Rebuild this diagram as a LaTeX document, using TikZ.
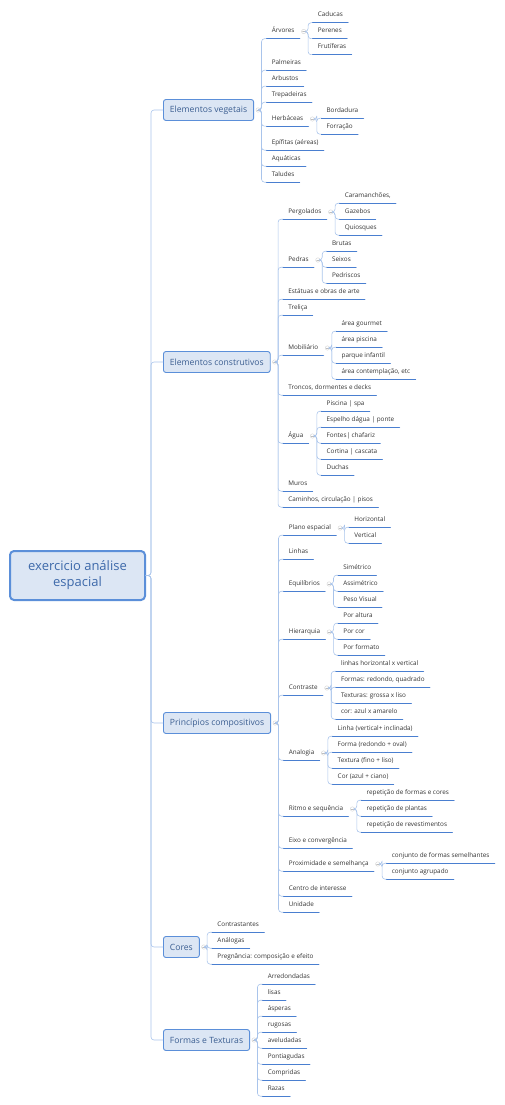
\documentclass[tikz,border=0pt]{standalone}
\usepackage{fontspec}
\setmainfont{Open Sans}
\usetikzlibrary{calc,positioning}
\definecolor{mapline}{HTML}{A9C4EB}
\definecolor{mapul}{HTML}{4A7FD0}
\definecolor{mapfill}{HTML}{DCE6F4}
\definecolor{mapedge}{HTML}{5B8FD9}
\definecolor{maptext}{HTML}{3B5E91}
\definecolor{roottext}{HTML}{3D69AA}
\definecolor{leaftext}{HTML}{333333}

\begin{document}
\begin{tikzpicture}[x=1pt,y=-1pt,line cap=round,line join=round,
  root/.style={draw=mapedge,line width=2pt,fill=mapfill,rounded corners=4pt,text=roottext,
    font=\fontsize{13}{16}\selectfont,align=center,minimum width=135pt,minimum height=49pt},
  topic/.style={draw=mapedge,line width=0.9pt,fill=mapfill,rounded corners=2.5pt,text=maptext,
    font=\fontsize{8.6}{10.3}\selectfont,minimum height=21pt,inner xsep=6.5pt,anchor=west},
  leaf/.style={font=\fontsize{6.35}{7.5}\selectfont,text=leaftext,inner xsep=5pt,inner ysep=4pt,
    text height=4.5pt,text depth=1.5pt,anchor=west},
  branch/.style={draw=mapline,line width=0.6pt,rounded corners=3pt},
  uline/.style={draw=mapul,line width=1.2pt},
  toggle/.style={circle,draw=gray!35,fill=white,line width=0.4pt,minimum size=4.4pt,inner sep=0pt,
    path picture={\draw[gray!50,line width=0.4pt] ([xshift=1pt]path picture bounding box.west)
      -- ([xshift=-1pt]path picture bounding box.east);}}]
  \useasboundingbox (0,0) rectangle (504,1105);

  % centre
  \node[root] (root) at (77.5,575.5) {exercicio análise\\espacial};
  \coordinate (trunk) at ([xshift=5pt]root.east);

  % main branches
  \node[topic] (ev) at (163,110) {Elementos vegetais};
  \node[topic] (ec) at (163,362) {Elementos construtivos};
  \node[topic] (pc) at (163,723) {Princípios compositivos};
  \node[topic] (co) at (163,947) {Cores};
  \node[topic] (ft) at (163,1040) {Formas e Texturas};
  \foreach \t in {ev,ec,pc,co,ft} {
    \draw[branch] (root.east) -- (trunk) |- (\t.west);
    \node[toggle] (\t-f) at ([xshift=4pt]\t.east) {};
    \coordinate (\t-x) at ([xshift=12.5pt]\t.east);
  }

  % second level
  \foreach \t/\n/\y/\s in {
      ev/arv/31.5/Árvores, ev/palm/63/Palmeiras, ev/arb/79/Arbustos, ev/trep/95/Trepadeiras,
      ev/herb/119/Herbáceas, ev/epif/143/Epífitas (aéreas), ev/aqua/159/Aquáticas, ev/talu/175/Taludes,
      ec/perg/212/Pergolados, ec/pedr/260/Pedras, ec/estat/292/Estátuas e obras de arte,
      ec/trel/308/Treliça, ec/mobi/348/Mobiliário, ec/tronc/388/{Troncos, dormentes e decks},
      ec/agua/436/Água, ec/muro/484/Muros, ec/cami/500/{Caminhos, circulação | pisos},
      pc/plano/528/Plano espacial, pc/linh/552/Linhas, pc/equi/584/Equilíbrios,
      pc/hier/632/Hierarquia, pc/contr/688/Contraste, pc/anal/753/Analogia,
      pc/ritm/809/Ritmo e sequência, pc/eixo/841/Eixo e convergência,
      pc/prox/864/Proximidade e semelhança, pc/centr/889/Centro de interesse, pc/unid/905/Unidade,
      co/cont/925/Contrastantes, co/anal2/941/Análogas, co/preg/957/Pregnância: composição e efeito,
      ft/arre/977/Arredondadas, ft/lisa/993/lisas, ft/aspe/1009/ásperas, ft/rugo/1025/rugosas,
      ft/avel/1041/aveludadas, ft/pont/1057/Pontiagudas, ft/comp/1073/Compridas, ft/raza/1089/Razas} {
    \node[leaf] (\n) at (\t-x |- 0,\y) {\s};
    \draw[branch] (\t-f.east) -- ++(1,0) |- (\n.south west);
    \draw[uline] (\n.south west) -- (\n.south east);
  }

  % third level
  \foreach \p in {arv,herb,perg,pedr,mobi,agua,plano,equi,hier,contr,anal,ritm,prox}
    \node[toggle] (\p-f) at ([xshift=4pt]\p.east) {};
  \foreach \p/\n/\dy/\s in {
      arv/cadu/-16/Caducas, arv/pere/0/Perenes, arv/frut/16/Frutíferas,
      herb/bord/-8/Bordadura, herb/forr/8/Forração,
      perg/cara/-16/{Caramanchões,}, perg/gaze/0/Gazebos, perg/quio/16/Quiosques,
      pedr/brut/-16/Brutas, pedr/seix/0/Seixos, pedr/pedri/16/Pedriscos,
      mobi/gour/-24/área gourmet, mobi/pisc/-8/área piscina, mobi/parq/8/parque infantil,
      mobi/cont2/24/{área contemplação, etc},
      agua/spa/-32/Piscina | spa, agua/espe/-16/Espelho dágua | ponte, agua/font/0/Fontes| chafariz,
      agua/cort/16/Cortina | cascata, agua/duch/32/Duchas,
      plano/hori/-8/Horizontal, plano/vert/8/Vertical,
      equi/sime/-16/Simétrico, equi/assi/0/Assimétrico, equi/peso/16/Peso Visual,
      hier/alt/-16/Por altura, hier/cor/0/Por cor, hier/form/16/Por formato,
      contr/lhv/-24/linhas horizontal x vertical, contr/frq/-8/{Formas: redondo, quadrado},
      contr/tgl/8/Texturas: grossa x liso, contr/caa/24/cor: azul x amarelo,
      anal/lvi/-24/Linha (vertical+ inclinada), anal/fro/-8/Forma (redondo + oval),
      anal/tfl/8/Textura (fino + liso), anal/cac/24/Cor (azul + ciano),
      ritm/rfc/-16/repetição de formas e cores, ritm/rpl/0/repetição de plantas,
      ritm/rrv/16/repetição de revestimentos,
      prox/cfs/-8/conjunto de formas semelhantes, prox/cag/8/conjunto agrupado} {
    \node[leaf] (\n) at ($(\p.east)+(13,\dy)$) {\s};
    \draw[branch] (\p-f.east) -- ++(2,0) |- (\n.south west);
    \draw[uline] (\n.south west) -- (\n.south east);
  }
\end{tikzpicture}
\end{document}
